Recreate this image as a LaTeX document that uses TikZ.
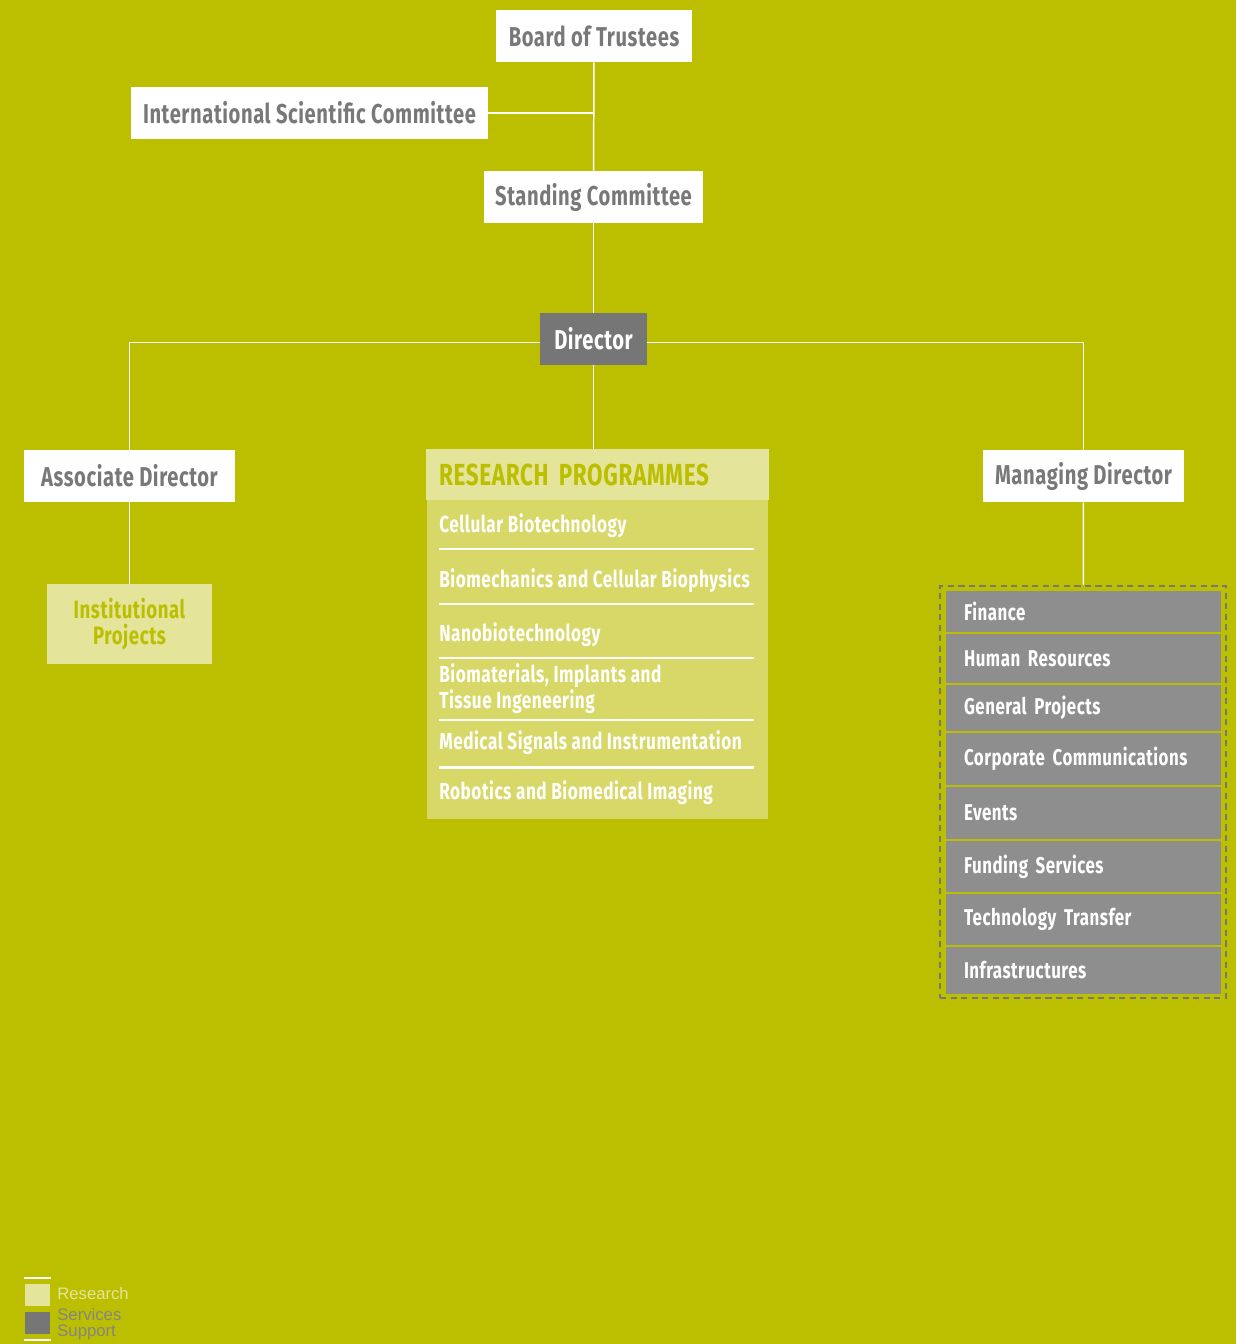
\documentclass[tikz,border=0pt]{standalone}
\usepackage{fontspec}
\setmainfont{Fira Sans}[FakeStretch=0.74, LetterSpace=2.2]
\newfontfamily\legendfont{Liberation Sans}
\usetikzlibrary{positioning}

\definecolor{olive}{RGB}{188,191,0}
\definecolor{paleres}{RGB}{228,228,154}
\definecolor{midres}{RGB}{216,216,104}
\definecolor{darkgrey}{RGB}{118,118,118}
\definecolor{servgrey}{RGB}{142,142,142}
\definecolor{boxtext}{RGB}{120,120,120}

\begin{document}
\begin{tikzpicture}[x=0.02cm, y=-0.02cm,
      every node/.style={inner sep=0pt, align=center},
      topbox/.style={fill=white, text=boxtext, minimum height=1.04cm,
                     font=\fontsize{15.5}{18}\selectfont\bfseries},
      dirbox/.style={topbox, fill=darkgrey, text=white},
      resitem/.style={anchor=west, text=white, align=left,
                      font=\fontsize{13.2}{12}\selectfont\bfseries},
      servitem/.style={fill=servgrey, text=white, minimum width=5.5cm,
                       text width=4.78cm, align=left,
                       font=\fontsize{13}{15}\selectfont\bfseries},
      link/.style={draw=white, line width=0.85pt},
      sep/.style={draw=white, line width=1.7pt},
  ]
    \fill[olive] (0,0) rectangle (1236,1344);
    \useasboundingbox (0,0) rectangle (1236,1344);

    % governance
    \node[topbox, minimum width=3.92cm] (board) at (594,36) {Board of Trustees};
    \node[topbox, minimum width=7.14cm] (isc) at (309.5,113) {International Scientific Committee};
    \node[topbox, minimum width=4.38cm] (stand) at (593.5,197) {Standing Committee};
    \node[dirbox, minimum width=2.14cm] (dir) at (593.5,339) {Director};

    % second level
    \node[topbox, minimum width=4.22cm] (assoc) at (129.5,476) {Associate Director};
    \node[topbox, minimum width=4.02cm] (manag) at (1083.5,476) {Managing Director};
    \node[fill=paleres, text=olive, minimum width=3.3cm, minimum height=1.6cm,
          font=\fontsize{14.3}{15}\selectfont\bfseries] (inst) at (129.5,624)
          {Institutional\\Projects};

    % research programmes
    \fill[midres] (427,500) rectangle (768,819);
    \node[fill=paleres, text=olive, minimum width=6.86cm, minimum height=1.02cm,
          text width=6.34cm, align=left,
          font=\fontsize{17.3}{18}\selectfont\bfseries] (resprog) at (597.5,474.5)
          {RESEARCH PROGRAMMES};
    \node[resitem] (cell) at (439,526) {Cellular Biotechnology};
    \node[resitem] (biomech) at (439,581) {Biomechanics and Cellular Biophysics};
    \node[resitem] (nano) at (439,635) {Nanobiotechnology};
    \node[resitem] (biomat) at (439,689) {Biomaterials, Implants and\\Tissue Ingeneering};
    \node[resitem] (medsig) at (439,743) {Medical Signals and Instrumentation};
    \node[resitem] (robot) at (439,793) {Robotics and Biomedical Imaging};
    \foreach \y in {549,604,658,720,767}
      \draw[sep] (439,\y) -- (754,\y);

    % services
    \node[draw=boxtext, dash pattern=on 3.5pt off 2.5pt, line width=1.4pt,
          minimum width=5.72cm, minimum height=8.24cm] (serv) at (1083,792) {};
    \foreach \nm/\yc/\h/\txt in {fin/611.5/41/Finance,
                                 hr/658.5/49/Human Resources,
                                 gp/708/46/General Projects,
                                 cc/759/52/Corporate Communications,
                                 ev/813/52/Events,
                                 fund/866.5/51/Funding Services,
                                 tt/919.5/51/Technology Transfer,
                                 infra/970.5/47/Infrastructures}
      \node[servitem, minimum height=\h*0.02cm] (\nm) at (1083.5,\yc) {\txt};

    % connectors
    \draw[link] (board) -- (stand);
    \draw[link] (isc.east) -- (isc.east -| board);
    \draw[link] (stand) -- (dir);
    \draw[link] (dir) -- (dir |- resprog.north);
    \draw[link] ([yshift=-2pt]dir.west) -| (assoc);
    \draw[link] ([yshift=-2pt]dir.east) -| (manag);
    \draw[link] (assoc) -- (inst);
    \draw[link] (manag) -- (serv);

    % legend
    \draw[link] (24,1278) -- (51,1278);
    \fill[paleres] (25,1284) rectangle (50,1306);
    \fill[darkgrey] (25,1312) rectangle (50,1334);
    \draw[link] (24,1340) -- (51,1340);
    \node[anchor=west, text=paleres, font=\legendfont\fontsize{9.5}{10}\selectfont]
      (legres) at (57,1294) {Research};
    \node[anchor=west, text=darkgrey!90, align=left,
          font=\legendfont\fontsize{9.5}{9}\selectfont]
      (legserv) at (57,1324) {Services\\Support};
  \end{tikzpicture}
\end{document}
